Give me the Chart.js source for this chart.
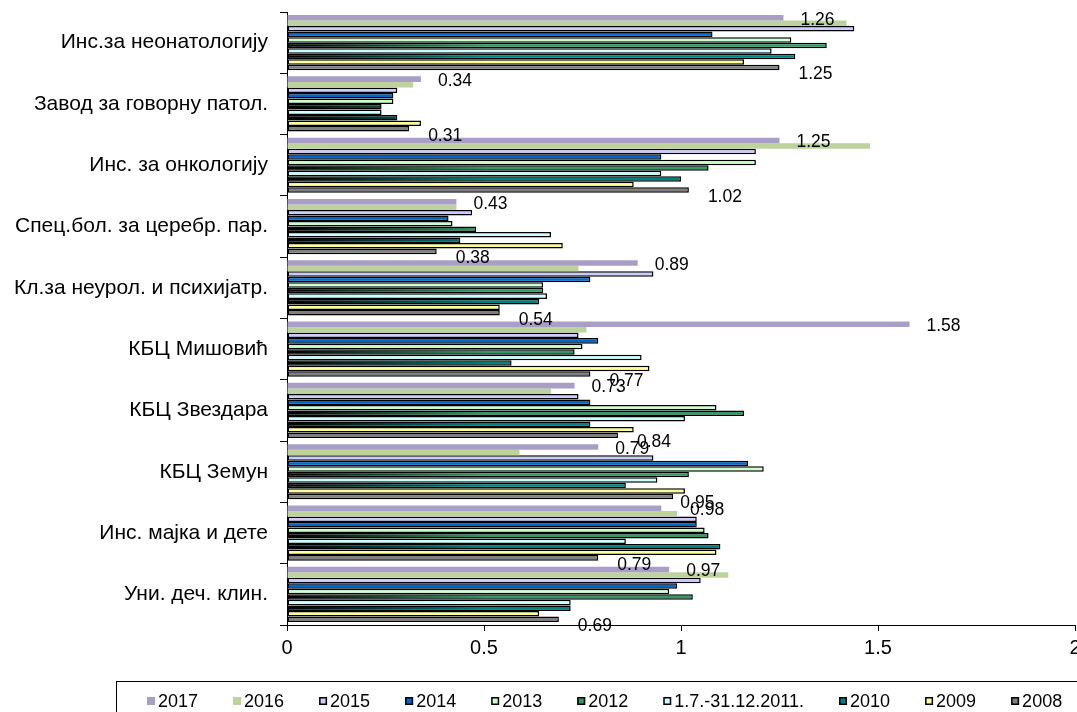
<!DOCTYPE html>
<html>
<head>
<meta charset="utf-8">
<script src="https://cdn.jsdelivr.net/npm/chart.js@4.4.1/dist/chart.umd.min.js"></script>
<style>
  html, body { margin: 0; padding: 0; background: #fff; }
  canvas { display: block; }
</style>
</head>
<body>
<canvas id="chart" width="1077" height="712"></canvas>
<script>
const categories = [
  'Инс.за неонатологију',
  'Завод за говорну патол.',
  'Инс. за онкологију',
  'Спец.бол. за церебр. пар.',
  'Кл.за неурол. и психијатр.',
  'КБЦ Мишовић',
  'КБЦ Звездара',
  'КБЦ Земун',
  'Инс. мајка и дете',
  'Уни. деч. клин.'
];

const seriesNames = ['2017', '2016', '2015', '2014', '2013', '2012', '1.7.-31.12.2011.', '2010', '2009', '2008'];

const v2017 = [1.26, 0.34, 1.25, 0.43, 0.89, 1.58, 0.73, 0.79, 0.95, 0.97];
const v2016 = [1.42, 0.32, 1.48, 0.43, 0.74, 0.76, 0.67, 0.59, 0.99, 1.12];
const v2015 = [1.44, 0.28, 1.19, 0.47, 0.93, 0.74, 0.74, 0.93, 1.04, 1.05];
const v2014 = [1.08, 0.27, 0.95, 0.41, 0.77, 0.79, 0.77, 1.17, 1.04, 0.99];
const v2013 = [1.28, 0.27, 1.19, 0.42, 0.65, 0.75, 1.09, 1.21, 1.06, 0.97];
const v2012 = [1.37, 0.24, 1.07, 0.48, 0.65, 0.73, 1.16, 1.02, 1.07, 1.03];
const v2011 = [1.23, 0.24, 0.95, 0.67, 0.66, 0.90, 1.01, 0.94, 0.86, 0.72];
const v2010 = [1.29, 0.28, 1.00, 0.44, 0.64, 0.57, 0.77, 0.86, 1.10, 0.72];
const v2009 = [1.16, 0.34, 0.88, 0.70, 0.54, 0.92, 0.88, 1.01, 1.09, 0.64];
const v2008 = [1.25, 0.31, 1.02, 0.38, 0.54, 0.77, 0.84, 0.98, 0.79, 0.69];

// data labels as printed on the chart (they don't always match the bars)
const labels2017 = [1.26, 0.34, 1.25, 0.43, 0.89, 1.58, 0.73, 0.79, 0.98, 0.97];
const labels2008 = [1.25, 0.31, 1.02, 0.38, 0.54, 0.77, 0.84, 0.95, 0.79, 0.69];

const xTicks = [0, 0.5, 1, 1.5, 2];

const FONT = "'Liberation Sans', Arial, sans-serif";

function fade(color) {
  return (c) => {
    const area = c.chart.chartArea;
    if (!area) return color;
    const g = c.chart.ctx.createLinearGradient(area.left, 0, area.left + 200, 0);
    g.addColorStop(0, '#000000');
    g.addColorStop(1, color);
    return g;
  };
}

const styles = [
  { fill: '#A99FC6', plain: '#A99FC6', border: 0 },
  { fill: '#BDD29C', plain: '#BDD29C', border: 0 },
  { fill: '#CCCCFF', plain: '#CCCCFF', border: 1.5 },
  { fill: '#0066CC', plain: '#0066CC', border: 1.5 },
  { fill: '#CCFFCC', plain: '#CCFFCC', border: 1.5 },
  { fill: fade('#339966'), plain: '#339966', border: 1.5 },
  { fill: '#CCFFFF', plain: '#CCFFFF', border: 1.5 },
  { fill: fade('#008080'), plain: '#008080', border: 1.5 },
  { fill: '#FFFF99', plain: '#FFFF99', border: 1.5 },
  { fill: '#7F7F7F', plain: '#7F7F7F', border: 1.5 }
];

const values = [v2017, v2016, v2015, v2014, v2013, v2012, v2011, v2010, v2009, v2008];

const datasets = values.map((vals, i) => ({
  label: seriesNames[i],
  data: vals,
  backgroundColor: styles[i].fill,
  borderColor: '#000000',
  borderWidth: styles[i].border,
  borderSkipped: false,
  categoryPercentage: 0.9,
  barPercentage: 1.0
}));

const valueLabels = {
  id: 'valueLabels',
  afterDatasetsDraw(chart) {
    const { ctx } = chart;
    const x = chart.scales.x;
    ctx.save();
    ctx.font = '17.5px ' + FONT;
    ctx.fillStyle = '#000';
    ctx.textAlign = 'left';
    ctx.textBaseline = 'middle';
    const first = chart.getDatasetMeta(0).data;
    const last = chart.getDatasetMeta(9).data;
    labels2017.forEach((v, i) => {
      ctx.fillText(v.toFixed(2), x.getPixelForValue(v) + 17, first[i].y + 2);
    });
    labels2008.forEach((v, i) => {
      ctx.fillText(v.toFixed(2), x.getPixelForValue(v) + 19, last[i].y + 7);
    });
    ctx.restore();
  }
};

const boxLegend = {
  id: 'boxLegend',
  afterDraw(chart) {
    const { ctx } = chart;
    ctx.save();
    ctx.strokeStyle = '#000';
    ctx.lineWidth = 1;
    ctx.strokeRect(116.5, 681.5, 1000, 60);
    ctx.font = '18px ' + FONT;
    ctx.textBaseline = 'middle';
    let cx = 147;
    const cy = 701;
    seriesNames.forEach((name, i) => {
      ctx.fillStyle = styles[i].plain;
      ctx.fillRect(cx, cy - 4, 8, 8);
      if (styles[i].border) {
        ctx.strokeStyle = '#000';
        ctx.lineWidth = 1.5;
        ctx.strokeRect(cx + 0.75, cy - 3.25, 6.5, 6.5);
      }
      ctx.fillStyle = '#000';
      ctx.fillText(name, cx + 11, cy + 1);
      cx += 11 + ctx.measureText(name).width + 35;
    });
    ctx.restore();
  }
};

new Chart(document.getElementById('chart'), {
  type: 'bar',
  data: { labels: categories, datasets: datasets },
  options: {
    indexAxis: 'y',
    responsive: false,
    animation: false,
    devicePixelRatio: 1,
    layout: { padding: { top: 12, right: 2, left: 0, bottom: 0 } },
    plugins: {
      legend: { display: false },
      tooltip: { enabled: false }
    },
    scales: {
      x: {
        min: 0,
        max: 2,
        afterBuildTicks: (scale) => { scale.ticks = xTicks.map(v => ({ value: v })); },
        afterFit: (scale) => { scale.height = 87; scale.paddingLeft = 0; scale.paddingRight = 0; },
        border: { display: true, color: '#000', width: 1 },
        grid: { drawOnChartArea: false, drawTicks: true, tickLength: 6, color: '#000' },
        ticks: {
          color: '#000',
          font: { family: FONT, size: 20 },
          padding: 5,
          maxRotation: 0,
          callback: (v) => String(v)
        }
      },
      y: {
        afterFit: (scale) => { scale.width = 287; scale.paddingTop = 0; scale.paddingBottom = 0; },
        border: { display: true, color: '#000', width: 1 },
        grid: { drawOnChartArea: false, drawTicks: true, tickLength: 7, color: '#000', offset: true },
        ticks: { color: '#000', font: { family: FONT, size: 21 }, padding: 12 }
      }
    }
  },
  plugins: [valueLabels, boxLegend]
});
</script>
</body>
</html>
